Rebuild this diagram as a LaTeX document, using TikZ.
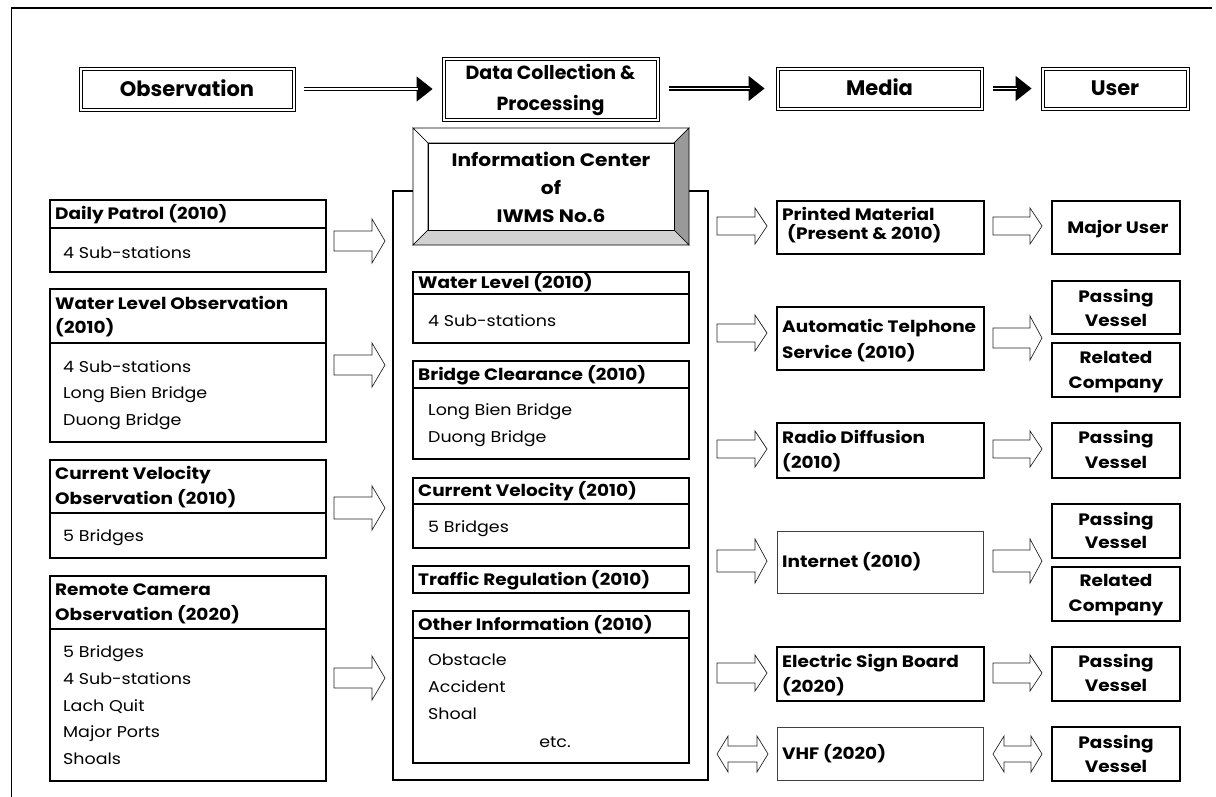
\documentclass[tikz,border=0pt]{standalone}
\usepackage{fontspec}
\setmainfont{Poppins}
\newfontfamily\widefam{Poppins}[FakeStretch=1.12]
\usetikzlibrary{fit,arrows.meta}
\newcommand\fhead{\bfseries\fontsize{21}{24}\selectfont}
\newcommand\fdcp{\bfseries\fontsize{19}{22}\selectfont}
\newcommand\ftitle{\widefam\bfseries\fontsize{16.5}{19}\selectfont}
\newcommand\fbody{\widefam\fontsize{15.6}{18}\selectfont}
\newcommand\fic{\widefam\bfseries\fontsize{18}{21}\selectfont}
% rectangle node: [style]{name}{x1}{y1}{x2}{y2}
\newcommand\rbox[6][]{\node[fit={(#3,#4)(#5,#6)}, inner sep=0pt, draw, line width=1.5pt, #1] (#2) {};}
% double-bordered header box
\newcommand\dbox[5]{\rbox[line width=0.7pt]{#1}{#2}{#3}{#4}{#5}\draw[line width=0.7pt] ({#2+3},{#3+3}) rectangle ({#4-3},{#5-3});}
% block arrow: {x1}{x2}{yc}{shaft half}{head half}{head length}
\newcommand\barrow[6]{\draw[blk] (#1,{#3-#4}) -- ({#2-#6},{#3-#4}) -- ({#2-#6},{#3-#5}) -- (#2,#3) -- ({#2-#6},{#3+#5}) -- ({#2-#6},{#3+#4}) -- (#1,{#3+#4}) -- cycle;}
\newcommand\dbarrow[6]{\draw[blk] (#1,#3) -- ({#1+#6},{#3-#5}) -- ({#1+#6},{#3-#4}) -- ({#2-#6},{#3-#4}) -- ({#2-#6},{#3-#5}) -- (#2,#3) -- ({#2-#6},{#3+#5}) -- ({#2-#6},{#3+#4}) -- ({#1+#6},{#3+#4}) -- ({#1+#6},{#3+#5}) -- cycle;}
\tikzset{
  tx/.style={inner sep=0pt, text depth=0pt},
  hd/.style={tx, font=\fhead, text height=14.7pt},
  hdd/.style={tx, font=\fdcp, text height=13.3pt},
  tl/.style={tx, anchor=west, font=\ftitle, text height=11.5pt},
  tc/.style={tx, font=\ftitle, text height=11.5pt},
  bl/.style={tx, anchor=west, font=\fbody, text height=10.9pt},
  bc/.style={tx, font=\fbody, text height=10.9pt},
  ict/.style={tx, font=\fic, text height=12.6pt},
  thinbox/.style={line width=0.8pt, draw=black!75},
  blk/.style={draw=black!85, line width=0.7pt, fill=white, line join=miter},
  bev/.style={draw=black, line width=0.6pt},
  harr/.style={line width=4.2pt, -{Triangle[length=16pt,width=24pt]}},
  harrw/.style={white, line width=1.6pt},
}
\begin{document}
\begin{tikzpicture}[x=1pt,y=-1pt]
\useasboundingbox (0,0) rectangle (1216,796);
% outer frame
\draw[line width=1.5pt] (1212,8) -- (11.5,8) -- (11.5,800);

% ---- header row ----
\dbox{obs}{79}{67}{295}{111}
\dbox{dcp}{442}{57}{659}{121}
\dbox{med}{776}{67}{983}{110}
\dbox{usr}{1041}{67}{1189}{110}
\node[hd] (obsT) at (obs.center) {Observation};
\node[hdd] (dcp1) at (550.5,73) {Data Collection \&};
\node[hdd] (dcp2) at (550.5,104) {Processing};
\node[hd] (medT) at (med.center) {Media};
\node[hd] (usrT) at (usr.center) {User};
\draw[harr, shorten <=9pt, shorten >=9pt] (obs.east) -- (dcp.west |- obs.east);
\draw[harrw, shorten <=9pt, shorten >=24pt] (obs.east) -- (dcp.west |- obs.east);
\draw[harr, shorten <=10pt, shorten >=11pt] (dcp.east |- med.west) -- (med.west);
\draw[harrw, shorten <=10pt, shorten >=26pt] (dcp.east |- med.west) -- (med.west);
\draw[harr, shorten <=10pt, shorten >=9pt] (med.east) -- (usr.west);
\draw[harrw, shorten <=10pt, shorten >=24pt] (med.east) -- (usr.west);

% ---- left column ----
\rbox{dpT}{50}{200}{326}{228}
\rbox{dpB}{50}{228}{326}{272}
\node[tl] (dp1) at (55,214) {Daily Patrol (2010)};
\node[bl] (dp2) at (63,253) {4 Sub-stations};

\rbox{wlT}{50}{289}{326}{343}
\rbox{wlB}{50}{343}{326}{442}
\node[tl] (wl1) at (55,304) {Water Level Observation};
\node[tl] (wl2) at (55,328) {(2010)};
\node[bl] (wl3) at (63,367) {4 Sub-stations};
\node[bl] (wl4) at (63,393) {Long Bien Bridge};
\node[bl] (wl5) at (63,420) {Duong Bridge};

\rbox{cvT}{50}{460}{326}{513}
\rbox{cvB}{50}{513}{326}{558}
\node[tl] (cv1) at (55,474) {Current Velocity};
\node[tl] (cv2) at (55,499) {Observation (2010)};
\node[bl] (cv3) at (63,536) {5 Bridges};

\rbox{rcT}{50}{576}{326}{629}
\rbox{rcB}{50}{629}{326}{781}
\node[tl] (rc1) at (55,590) {Remote Camera};
\node[tl] (rc2) at (55,615) {Observation (2020)};
\node[bl] (rc3) at (63,652) {5 Bridges};
\node[bl] (rc4) at (63,679) {4 Sub-stations};
\node[bl] (rc5) at (63,706) {Lach Quit};
\node[bl] (rc6) at (63,732) {Major Ports};
\node[bl] (rc7) at (63,759) {Shoals};

\barrow{334}{385}{241}{10}{22}{13}
\barrow{334}{385}{365}{10}{22}{13}
\barrow{334}{385}{508}{11}{22}{13}
\barrow{334}{385}{678}{10}{22}{13}

% ---- centre column ----
\rbox[line width=1.2pt]{cont}{393}{191}{708}{780}
\filldraw[fill=white, bev] (413,128) -- (689,128) -- (674,143) -- (428,143) -- cycle;
\filldraw[fill=white, bev] (413,128) -- (428,143) -- (428,230) -- (413,245) -- cycle;
\filldraw[fill=black!40, bev] (689,128) -- (689,245) -- (674,230) -- (674,143) -- cycle;
\filldraw[fill=black!18, bev] (413,245) -- (689,245) -- (674,230) -- (428,230) -- cycle;
\node[fit={(428,143)(674,230)}, inner sep=0pt, draw, line width=0.6pt, fill=white] (ic) {};
\node[ict] (ic1) at (551,160) {Information Center};
\node[ict] (ic2) at (551,188) {of};
\node[ict] (ic3) at (551,216) {IWMS No.6};

\rbox{cwT}{413}{272}{689}{294}
\rbox{cwB}{413}{294}{689}{343}
\node[tl] (cw1) at (418,283) {Water Level (2010)};
\node[bl] (cw2) at (428,321) {4 Sub-stations};

\rbox{cbT}{413}{361}{689}{388}
\rbox{cbB}{413}{388}{689}{459}
\node[tl] (cb1) at (418,375) {Bridge Clearance (2010)};
\node[bl] (cb2) at (428,410) {Long Bien Bridge};
\node[bl] (cb3) at (428,437) {Duong Bridge};

\rbox{ccT}{413}{478}{689}{504}
\rbox{ccB}{413}{504}{689}{548}
\node[tl] (cc1) at (418,491) {Current Velocity (2010)};
\node[bl] (cc2) at (428,527) {5 Bridges};

\rbox{ctT}{413}{566}{689}{593}
\node[tl] (ct1) at (418,580) {Traffic Regulation (2010)};

\rbox{coT}{413}{611}{689}{638}
\rbox{coB}{413}{638}{689}{763}
\node[tl] (co1) at (418,625) {Other Information (2010)};
\node[bl] (co2) at (428,660) {Obstacle};
\node[bl] (co3) at (428,687) {Accident};
\node[bl] (co4) at (428,714) {Shoal};
\node[bc] (co5) at (555,742) {etc.};

% ---- media column ----
\rbox{pm}{777}{201}{984}{254}
\node[tl] (pm1) at (782,215) {Printed Material};
\node[tl] (pm2) at (787,234) {(Present \& 2010)};
\rbox{ats}{777}{307}{984}{370}
\node[tl] (ats1) at (782,327) {Automatic Telphone};
\node[tl] (ats2) at (782,353) {Service (2010)};
\rbox{rd}{777}{423}{984}{478}
\node[tl] (rd1) at (782,438) {Radio Diffusion};
\node[tl] (rd2) at (782,463) {(2010)};
\rbox[thinbox]{inet}{777}{531}{983}{593}
\node[tl] (inet1) at (782,562) {Internet (2010)};
\rbox{esb}{777}{647}{984}{701}
\node[tl] (esb1) at (782,662) {Electric Sign Board};
\node[tl] (esb2) at (782,687) {(2020)};
\rbox[thinbox]{vhf}{777}{727}{983}{780}
\node[tl] (vhf1) at (782,754) {VHF (2020)};

\barrow{717}{767}{226}{9}{18}{12}
\barrow{717}{767}{333}{9}{18}{12}
\barrow{717}{767}{449}{9}{18}{12}
\barrow{717}{767}{561}{11}{22}{12}
\barrow{717}{767}{673}{10}{18}{12}
\dbarrow{717}{768}{754}{8}{18}{11}

% ---- user column ----
\rbox{u1}{1052}{201}{1180}{254}
\node[tc] (u1a) at (1118,228) {Major User};
\rbox{u2}{1052}{281}{1180}{334}
\node[tc] (u2a) at (1116,297) {Passing};
\node[tc] (u2b) at (1116,321) {Vessel};
\rbox{u3}{1052}{343}{1180}{397}
\node[tc] (u3a) at (1116,358) {Related};
\node[tc] (u3b) at (1116,383) {Company};
\rbox{u4}{1052}{423}{1180}{478}
\node[tc] (u4a) at (1116,438) {Passing};
\node[tc] (u4b) at (1116,463) {Vessel};
\rbox{u5}{1052}{504}{1180}{558}
\node[tc] (u5a) at (1116,520) {Passing};
\node[tc] (u5b) at (1116,543) {Vessel};
\rbox{u6}{1052}{567}{1180}{621}
\node[tc] (u6a) at (1116,581) {Related};
\node[tc] (u6b) at (1116,606) {Company};
\rbox{u7}{1052}{647}{1180}{701}
\node[tc] (u7a) at (1116,662) {Passing};
\node[tc] (u7b) at (1116,686) {Vessel};
\rbox{u8}{1052}{727}{1180}{781}
\node[tc] (u8a) at (1116,743) {Passing};
\node[tc] (u8b) at (1116,767) {Vessel};

\barrow{993}{1042}{226}{9}{18}{12}
\barrow{993}{1042}{338}{10}{22}{12}
\barrow{993}{1042}{449}{9}{18}{12}
\barrow{993}{1042}{561}{11}{22}{12}
\barrow{993}{1042}{673}{10}{18}{12}
\dbarrow{993}{1042}{754}{8}{18}{11}
\end{tikzpicture}
\end{document}
